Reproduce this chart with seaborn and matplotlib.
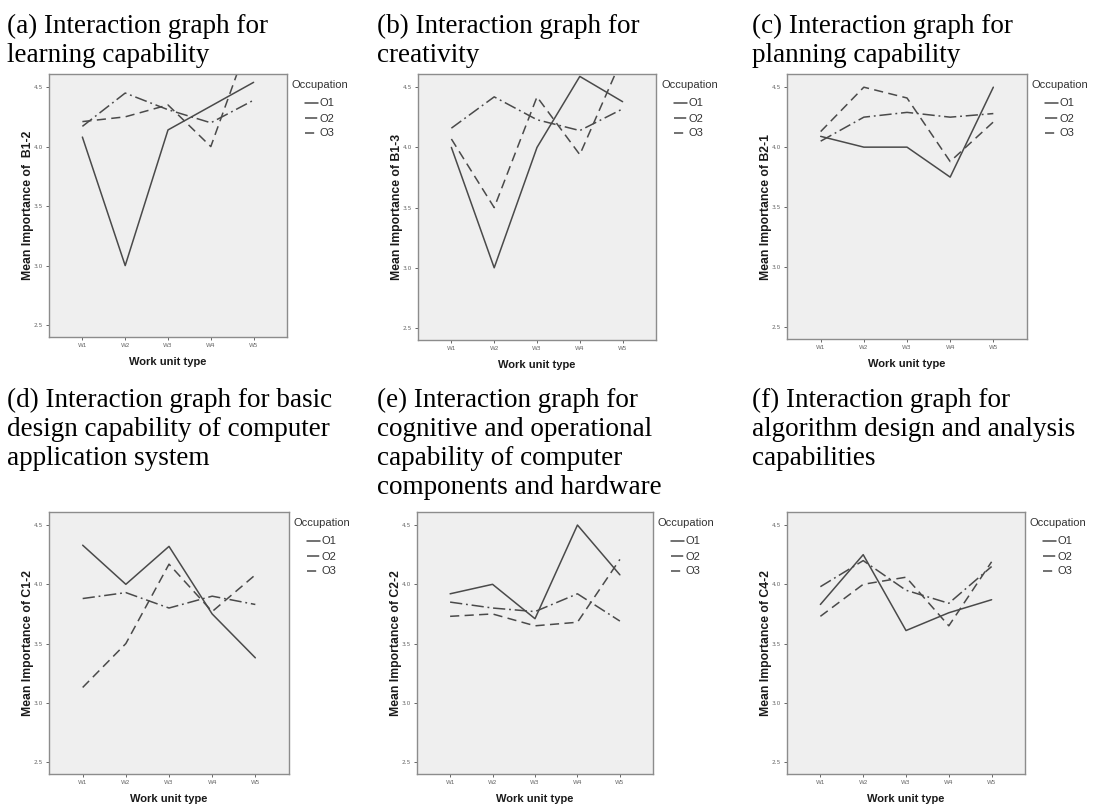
import pandas as pd
import seaborn as sns
import matplotlib.pyplot as plt

work_units = ['W1', 'W2', 'W3', 'W4', 'W5']
occupations = ['O1', 'O2', 'O3']

# (a) B1-2
b12_o1 = [4.08, 3.00, 4.14, 4.34, 4.54]
b12_o2 = [4.17, 4.45, 4.31, 4.20, 4.39]
b12_o3 = [4.21, 4.25, 4.35, 4.00, 5.00]
# (b) B1-3
b13_o1 = [4.00, 3.00, 4.00, 4.59, 4.38]
b13_o2 = [4.16, 4.42, 4.23, 4.14, 4.32]
b13_o3 = [4.07, 3.50, 4.42, 3.94, 4.75]
# (c) B2-1
b21_o1 = [4.09, 4.00, 4.00, 3.75, 4.50]
b21_o2 = [4.05, 4.25, 4.29, 4.25, 4.28]
b21_o3 = [4.13, 4.50, 4.41, 3.88, 4.21]
# (d) C1-2
c12_o1 = [4.33, 4.00, 4.32, 3.75, 3.38]
c12_o2 = [3.88, 3.93, 3.80, 3.90, 3.83]
c12_o3 = [3.13, 3.50, 4.17, 3.77, 4.08]
# (e) C2-2
c22_o1 = [3.92, 4.00, 3.71, 4.50, 4.08]
c22_o2 = [3.85, 3.80, 3.77, 3.92, 3.69]
c22_o3 = [3.73, 3.75, 3.65, 3.68, 4.21]
# (f) C4-2
c42_o1 = [3.83, 4.25, 3.61, 3.76, 3.87]
c42_o2 = [3.98, 4.20, 3.95, 3.84, 4.15]
c42_o3 = [3.73, 4.00, 4.06, 3.65, 4.19]

titles = [
    ['(a) Interaction graph for', 'learning capability'],
    ['(b) Interaction graph for', 'creativity'],
    ['(c) Interaction graph for', 'planning capability'],
    ['(d) Interaction graph for basic', 'design capability of computer', 'application system'],
    ['(e) Interaction graph for', 'cognitive and operational', 'capability of computer',
     'components and hardware'],
    ['(f) Interaction graph for', 'algorithm design and analysis', 'capabilities'],
]
ylabels = ['Mean Importance of  B1-2', 'Mean Importance of B1-3', 'Mean Importance of B2-1',
           'Mean Importance of C1-2', 'Mean Importance of C2-2', 'Mean Importance of C4-2']
series = [
    (b12_o1, b12_o2, b12_o3), (b13_o1, b13_o2, b13_o3), (b21_o1, b21_o2, b21_o3),
    (c12_o1, c12_o2, c12_o3), (c22_o1, c22_o2, c22_o3), (c42_o1, c42_o2, c42_o3),
]

# axes boxes in pixels (left, top, right, bottom), title x and first baseline
boxes = [(49, 74, 287, 337), (418, 74, 656, 340), (787, 74, 1027, 339),
         (49, 512, 289, 774), (417, 512, 653, 774), (787, 512, 1025, 774)]
title_x = [7, 377, 752, 7, 377, 752]
title_y0 = [33, 33, 33, 407, 407, 407]

W, H = 1096, 807
sns.set_style('white')
fig = plt.figure(figsize=(W / 100, H / 100), dpi=100)

line_col = '#4a4a4a'
palette = {'O1': line_col, 'O2': line_col, 'O3': line_col}
dashes = {'O1': '', 'O2': (8, 2.5, 1.2, 2.5), 'O3': (6, 3.5)}

for i in range(6):
    x0, y0, x1, y1 = boxes[i]
    ax = fig.add_axes([x0 / W, 1 - y1 / H, (x1 - x0) / W, (y1 - y0) / H])
    o1, o2, o3 = series[i]
    df = pd.DataFrame({
        'Work unit type': work_units * 3,
        'Mean': o1 + o2 + o3,
        'Occupation': [o for o in occupations for _ in work_units],
    })
    sns.lineplot(data=df, x='Work unit type', y='Mean', hue='Occupation',
                 style='Occupation', palette=palette, dashes=dashes,
                 linewidth=1.1, ax=ax, sort=False)
    ax.set_facecolor('#efefef')
    ax.set_xlim(-0.78, 4.78)
    ax.set_ylim(2.4, 4.61)
    ax.set_yticks([2.5, 3.0, 3.5, 4.0, 4.5])
    ax.set_yticklabels(['2.5', '3.0', '3.5', '4.0', '4.5'])
    ax.tick_params(axis='both', labelsize=4.2, colors='#666666', length=2.5,
                   width=0.7, pad=2, direction='out')
    ax.tick_params(left=True, bottom=True)
    for s in ax.spines.values():
        s.set_color('#8c8c8c')
        s.set_linewidth(1.0)
    ax.set_ylabel(ylabels[i], fontsize=8.8, fontweight='bold', family='Liberation Sans',
                  color='#1a1a1a', labelpad=-0.5)
    ax.set_xlabel('Work unit type', fontsize=8, fontweight='bold', family='Liberation Sans',
                  color='#1a1a1a', labelpad=6)

    handles, labels = ax.get_legend_handles_labels()
    ax.get_legend().remove()
    fig.text((x1 + 5) / W, 1 - (y0 + 11) / H, 'Occupation', fontsize=8,
             family='Liberation Sans', color='#333333', va='center', ha='left')
    leg = ax.legend(handles, labels, loc='upper left',
                    bbox_to_anchor=((x1 + 18) / W, 1 - (y0 + 24.5) / H),
                    bbox_transform=fig.transFigure, frameon=False, borderpad=0,
                    borderaxespad=0, handlelength=1.2, handletextpad=0.1,
                    labelspacing=0.45, prop={'family': 'Liberation Sans', 'size': 8})
    for t in leg.get_texts():
        t.set_color('#333333')

    for k, line in enumerate(titles[i]):
        fig.text(title_x[i] / W, 1 - (title_y0[i] + 29 * k) / H, line,
                 fontsize=19.5, family='Liberation Serif', color='black',
                 va='baseline', ha='left')

fig.savefig('out.png', dpi=100, facecolor='white')
